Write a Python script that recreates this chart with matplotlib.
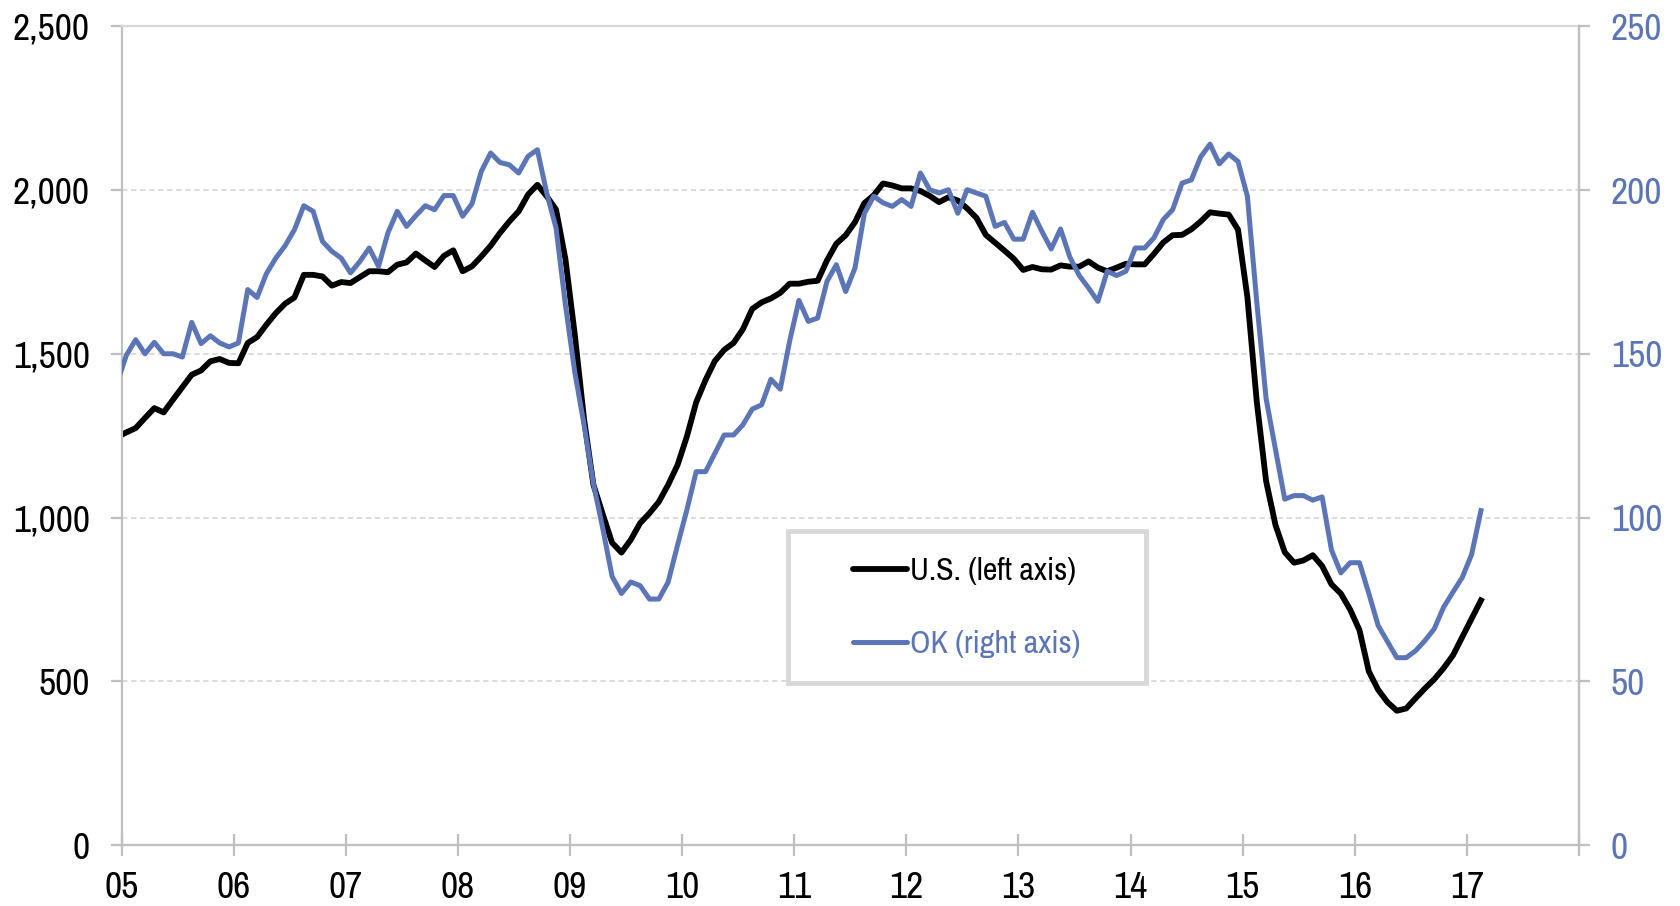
import numpy as np
import matplotlib.pyplot as plt
from matplotlib.patches import Rectangle

plt.rcParams['font.family'] = ['Liberation Sans Narrow', 'Arial Narrow', 'Archivo Narrow',
                               'Roboto Condensed', 'Liberation Sans', 'DejaVu Sans']

# Monthly rig counts, Dec 2004 .. Feb 2017
us_rigs = [
    1245,
    1260, 1273, 1304, 1334, 1321, 1360, 1398, 1436, 1449, 1477, 1484, 1472,   # 2005
    1471, 1533, 1551, 1589, 1624, 1653, 1672, 1741, 1741, 1736, 1708, 1719,   # 2006
    1716, 1734, 1752, 1752, 1749, 1772, 1779, 1806, 1785, 1765, 1799, 1816,   # 2007
    1752, 1767, 1797, 1830, 1869, 1904, 1935, 1986, 2016, 1981, 1940, 1790,   # 2008
    1560, 1300, 1100, 1010, 923, 893, 932, 983, 1013, 1048, 1100, 1160,      # 2009
    1247, 1352, 1420, 1478, 1512, 1533, 1575, 1637, 1657, 1669, 1686, 1714,   # 2010
    1714, 1720, 1723, 1785, 1836, 1862, 1902, 1960, 1984, 2020, 2014, 2005,   # 2011
    2005, 1997, 1982, 1963, 1978, 1968, 1944, 1915, 1863, 1839, 1815, 1790,   # 2012
    1756, 1765, 1758, 1757, 1770, 1766, 1766, 1782, 1763, 1752, 1763, 1775,   # 2013
    1773, 1773, 1805, 1840, 1862, 1863, 1880, 1904, 1932, 1928, 1925, 1879,   # 2014
    1673, 1355, 1112, 978, 894, 862, 869, 885, 852, 796, 768, 719,           # 2015
    656, 530, 474, 436, 410, 417, 448, 478, 506, 540, 579, 635,              # 2016
    691, 747,                                                                # 2017
]

ok_rigs = [
    141,
    149.5, 154.3, 150.0, 153.5, 150.0, 150.0, 149.0, 159.6, 153.1, 155.5, 153.3, 152.1,   # 2005
    153.3, 169.6, 167.2, 174.5, 179.2, 183.0, 187.9, 195.2, 193.5, 184.3, 181.3, 179.2,   # 2006
    174.7, 178.2, 182.3, 176.7, 186.9, 193.5, 188.9, 192.2, 195.2, 194.0, 198.3, 198.3,   # 2007
    192.0, 195.8, 205.7, 211.3, 208.4, 207.7, 205.2, 210.3, 212.3, 199.1, 188.4, 165.0,   # 2008
    144.5, 128.3, 110.3, 96.7, 82.0, 76.8, 80.3, 79.2, 75.1, 75.1, 80.3, 91.5,            # 2009
    102.3, 114.0, 114.0, 119.6, 125.2, 125.2, 128.3, 133.1, 134.4, 142.2, 139.2, 153.8,   # 2010
    166.3, 159.9, 160.9, 172.1, 177.2, 169.0, 176.2, 192.8, 198.1, 196.1, 195.0, 197.1,   # 2011
    195.0, 205.2, 200.1, 199.1, 200.1, 192.9, 200.1, 199.1, 198.1, 188.9, 190.1, 185.0,   # 2012
    185.0, 193.2, 187.4, 182.0, 188.1, 179.5, 173.9, 170.1, 166.0, 175.2, 173.9, 175.2,   # 2013
    182.3, 182.3, 185.4, 191.0, 194.0, 202.1, 203.1, 210.1, 214.0, 208.0, 211.0, 208.7,   # 2014
    198.1, 166.0, 136.4, 120.9, 105.6, 106.7, 106.7, 105.3, 106.3, 90.1, 83.1, 86.2,      # 2015
    86.2, 76.8, 67.0, 62.1, 57.2, 57.2, 59.3, 62.4, 66.0, 72.6, 77.2, 81.7,               # 2016
    88.7, 102.1,                                                                          # 2017
]

years = list(range(2005, 2019))
year_labels = ['05', '06', '07', '08', '09', '10', '11', '12', '13', '14', '15', '16', '17', '']

# first value is Dec 2004, points sit at mid-month
months = np.arange(len(us_rigs)) - 1
x = 2005 + (months + 0.5) / 12

blue = '#5b75b7'
grey = '#bfbfbf'
light = '#d9d9d9'

fig = plt.figure(figsize=(16.8, 9.06), dpi=100)
ax = fig.add_axes([0.0724, 0.0673, 0.8675, 0.9037])
ax2 = ax.twinx()

ax.plot(x, us_rigs, color='black', lw=4.2, solid_joinstyle='round', label='U.S. (left axis)')
ax2.plot(x, ok_rigs, color=blue, lw=3.6, solid_joinstyle='round', label='OK (right axis)')

ax.set_xlim(2005, 2018)
ax.set_ylim(0, 2500)
ax2.set_ylim(0, 250)
ax.set_yticks(range(0, 2501, 500))
ax.set_yticklabels([f'{v:,}' for v in range(0, 2501, 500)])
ax2.set_yticks(range(0, 251, 50))
ax.set_xticks(years)
ax.set_xticklabels(year_labels)

ax.grid(axis='y', color=light, lw=1.3, linestyle=(0, (3, 2)))
ax.set_axisbelow(True)

for s in ['left', 'right', 'bottom']:
    ax.spines[s].set_color(grey)
    ax.spines[s].set_linewidth(1.6)
ax.spines['top'].set_color(light)
ax.spines['top'].set_linewidth(1.6)
for s in ['left', 'top', 'bottom']:
    ax2.spines[s].set_visible(False)
ax2.spines['right'].set_color(grey)
ax2.spines['right'].set_linewidth(1.6)

ax.tick_params(axis='x', direction='inout', length=16, width=1.6, color=grey,
               labelsize=27, pad=11)
ax.tick_params(axis='y', direction='out', length=8, width=1.6, color=grey,
               labelsize=27, pad=15)
ax2.tick_params(axis='y', direction='out', length=8, width=1.6, color=grey,
                labelsize=27, pad=15, labelcolor=blue)

# legend box
ax2.add_patch(Rectangle((0.4572, 0.1979), 0.2457, 0.1857, transform=ax2.transAxes,
                        facecolor='white', edgecolor=light, lw=3.5, zorder=5))
h1, l1 = ax.get_legend_handles_labels()
h2, l2 = ax2.get_legend_handles_labels()
leg = ax2.legend(h1 + h2, l1 + l2, loc='center left', bbox_to_anchor=(0.5018, 0.290),
                 frameon=False, fontsize=23, handlelength=1.7, handletextpad=0.1,
                 labelspacing=1.4, borderpad=0, borderaxespad=0)
leg.set_zorder(6)
for txt, c in zip(leg.get_texts(), ['black', blue]):
    txt.set_color(c)
for ln in leg.get_lines():
    ln.set_solid_capstyle('round')

fig.savefig('out.png', dpi=100)
